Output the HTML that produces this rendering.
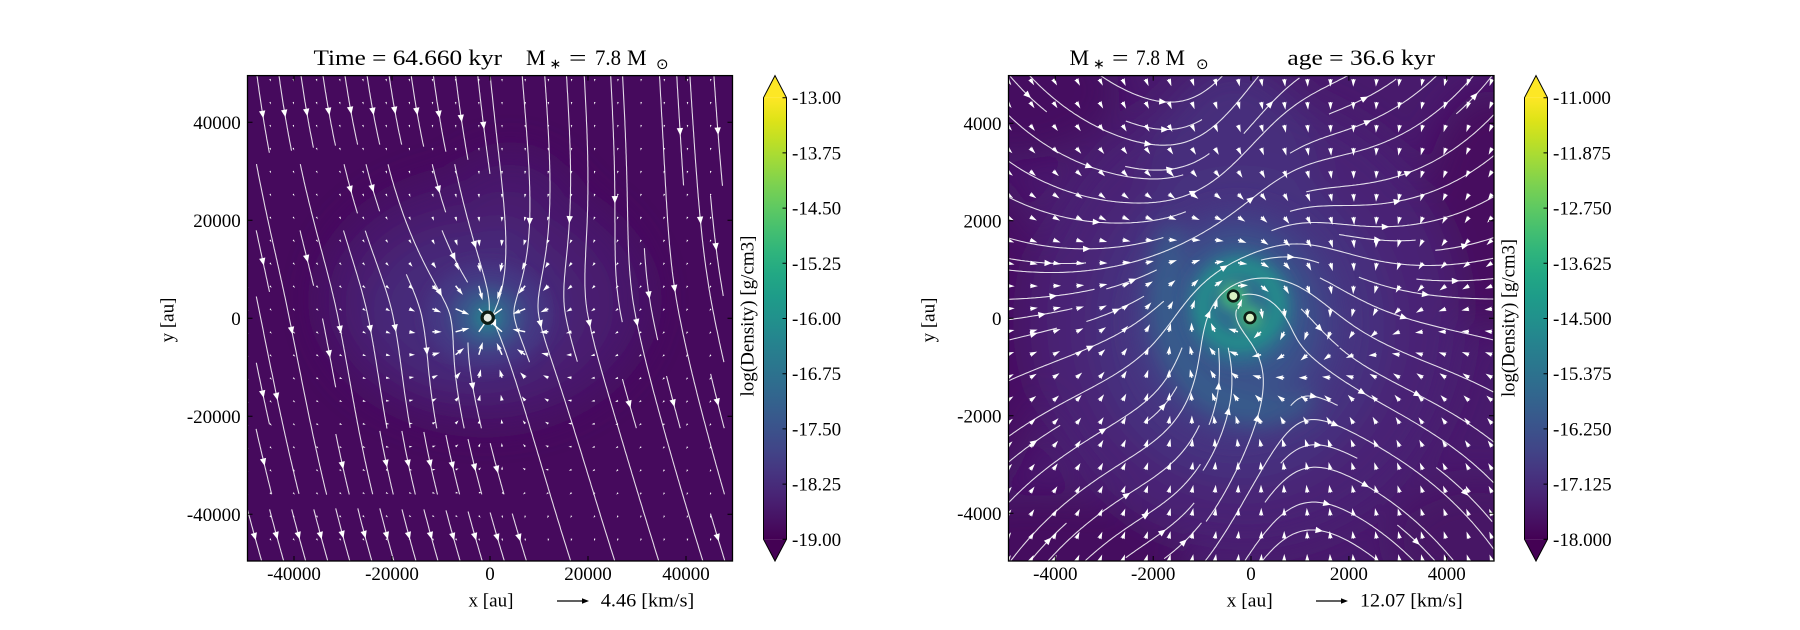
<!DOCTYPE html>
<html><head><meta charset="utf-8">
<style>
html,body{margin:0;padding:0;background:#fff;}
svg{display:block;}
text{font-family:"Liberation Serif","DejaVu Serif",serif;fill:#000;}
</style></head>
<body>
<svg id="s" width="1800" height="630" viewBox="0 0 1800 630" xmlns="http://www.w3.org/2000/svg">
<defs>
 <clipPath id="cL"><rect x="247.5" y="75.6" width="485" height="485.4"/></clipPath>
 <clipPath id="cR"><rect x="1008.5" y="75.6" width="485.5" height="485.4"/></clipPath>
 <filter id="b18" x="-50%" y="-50%" width="200%" height="200%"><feGaussianBlur stdDeviation="18"/></filter>
 <filter id="b12" x="-50%" y="-50%" width="200%" height="200%"><feGaussianBlur stdDeviation="12"/></filter>
 <filter id="b7" x="-50%" y="-50%" width="200%" height="200%"><feGaussianBlur stdDeviation="7"/></filter>
 <filter id="b4" x="-50%" y="-50%" width="200%" height="200%"><feGaussianBlur stdDeviation="4"/></filter>
 <linearGradient id="vir" gradientUnits="userSpaceOnUse" x1="0" y1="539.3" x2="0" y2="97.7">
  <stop offset="0" stop-color="#440154"/><stop offset="0.05" stop-color="#471365"/>
  <stop offset="0.1" stop-color="#482475"/><stop offset="0.15" stop-color="#463480"/>
  <stop offset="0.2" stop-color="#414487"/><stop offset="0.25" stop-color="#3b528b"/>
  <stop offset="0.3" stop-color="#355f8d"/><stop offset="0.35" stop-color="#2f6c8e"/>
  <stop offset="0.4" stop-color="#2a788e"/><stop offset="0.45" stop-color="#25848e"/>
  <stop offset="0.5" stop-color="#21918c"/><stop offset="0.55" stop-color="#1e9c89"/>
  <stop offset="0.6" stop-color="#22a884"/><stop offset="0.65" stop-color="#2fb47c"/>
  <stop offset="0.7" stop-color="#44bf70"/><stop offset="0.75" stop-color="#5ec962"/>
  <stop offset="0.8" stop-color="#7ad151"/><stop offset="0.85" stop-color="#9bd93c"/>
  <stop offset="0.9" stop-color="#bddf26"/><stop offset="0.95" stop-color="#dfe318"/>
  <stop offset="1" stop-color="#fde725"/>
 </linearGradient>
</defs>

<!-- LEFT PANEL -->
<g clip-path="url(#cL)">
 <rect x="247.5" y="75.6" width="485" height="485.4" fill="#460a5d"/>
 <g filter="url(#b18)">
  <ellipse cx="485" cy="300" rx="165" ry="125" fill="#47136a"/>
  <ellipse cx="510" cy="215" rx="70" ry="62" fill="#47136a"/>
  <ellipse cx="480" cy="305" rx="135" ry="100" fill="#481d6f"/>
  <ellipse cx="505" cy="245" rx="50" ry="55" fill="#481d6f"/>
  <ellipse cx="472" cy="310" rx="100" ry="75" fill="#472a7a"/>
  <ellipse cx="500" cy="272" rx="40" ry="45" fill="#472a7a"/>
 </g>
 <g filter="url(#b7)">
  <ellipse cx="487" cy="316" rx="62" ry="52" fill="#443983"/>
  <ellipse cx="487" cy="317" rx="36" ry="32" fill="#3b528b"/>
  <circle cx="487.7" cy="317.7" r="18" fill="#2f6c8e"/>
  <circle cx="487.7" cy="317.7" r="9" fill="#25848e"/>
 </g>
 <g id="qL" fill="#fff"></g>
 <g id="sL" fill="none" stroke="#fff" stroke-width="1.1" stroke-opacity="0.85"></g>
 <g id="hL" fill="#fff"></g>
 <circle cx="487.7" cy="317.7" r="7.2" fill="#0e1d14"/>
 <circle cx="487.7" cy="317.7" r="4" fill="#e4ebe4"/>
</g>
<rect x="247.5" y="75.6" width="485" height="485.4" fill="none" stroke="#000" stroke-width="1.3"/>
<g stroke="#000" stroke-width="1">
 <path d="M294 561v-5M392 561v-5M490 561v-5M588 561v-5M686 561v-5M294 75.6v5M392 75.6v5M490 75.6v5M588 75.6v5M686 75.6v5"/>
 <path d="M247.5 122.3h5M247.5 220.3h5M247.5 318.3h5M247.5 416.3h5M247.5 514.3h5M732.5 122.3h-5M732.5 220.3h-5M732.5 318.3h-5M732.5 416.3h-5M732.5 514.3h-5"/>
</g>
<g font-size="19">
 <text x="240.7" y="128.8" text-anchor="end">40000</text>
 <text x="240.7" y="226.8" text-anchor="end">20000</text>
 <text x="240.7" y="324.8" text-anchor="end">0</text>
 <text x="240.7" y="422.8" text-anchor="end">-20000</text>
 <text x="240.7" y="520.8" text-anchor="end">-40000</text>
 <text x="294" y="580" text-anchor="middle">-40000</text>
 <text x="392" y="580" text-anchor="middle">-20000</text>
 <text x="490" y="580" text-anchor="middle">0</text>
 <text x="588" y="580" text-anchor="middle">20000</text>
 <text x="686" y="580" text-anchor="middle">40000</text>
 <text x="468.5" y="606.7" textLength="45" lengthAdjust="spacingAndGlyphs">x [au]</text>
 <text x="600.8" y="606.7" textLength="93.4" lengthAdjust="spacingAndGlyphs">4.46 [km/s]</text>
 <text transform="translate(173.5,320) rotate(-90)" text-anchor="middle">y [au]</text>
 <text transform="translate(753.3,316) rotate(-90)" text-anchor="middle" textLength="161" lengthAdjust="spacingAndGlyphs">log(Density) [g/cm3]</text>
</g>
<path d="M557 601H584" stroke="#000" stroke-width="1.3"/>
<polygon points="589,601 582,598.3 582,603.7" fill="#000"/>
<g font-size="22">
 <text x="313.5" y="65" textLength="188.5" lengthAdjust="spacingAndGlyphs">Time = 64.660 kyr</text>
 <text x="526" y="65">M</text>
 <text x="549.5" y="68.5" font-size="14" style="font-family:'DejaVu Sans',sans-serif">∗</text>
 <text x="569" y="65" textLength="17.5" lengthAdjust="spacingAndGlyphs">=</text>
 <text x="595" y="65" textLength="26" lengthAdjust="spacingAndGlyphs">7.8</text>
 <text x="627" y="65">M</text>
 <text x="656" y="69" font-size="15" style="font-family:'DejaVu Sans',sans-serif">⊙</text>
</g>
<!-- left colorbar -->
<rect x="763.5" y="97.7" width="23" height="441.6" fill="url(#vir)"/>
<polygon points="763.5,97.7 775,75.6 786.5,97.7" fill="#fde725"/>
<polygon points="763.5,539.3 775,561 786.5,539.3" fill="#440154"/>
<path d="M763.5 97.7L775 75.6L786.5 97.7V539.3L775 561L763.5 539.3Z" fill="none" stroke="#000" stroke-width="1"/>
<path d="M786.5 97.7h-4M786.5 152.9h-4M786.5 208.1h-4M786.5 263.3h-4M786.5 318.5h-4M786.5 373.7h-4M786.5 428.9h-4M786.5 484.1h-4M786.5 539.3h-4" stroke="#000" stroke-width="1"/>
<g font-size="19">
 <text x="792" y="104.2">-13.00</text>
 <text x="792" y="159.4">-13.75</text>
 <text x="792" y="214.6">-14.50</text>
 <text x="792" y="269.8">-15.25</text>
 <text x="792" y="325">-16.00</text>
 <text x="792" y="380.2">-16.75</text>
 <text x="792" y="435.4">-17.50</text>
 <text x="792" y="490.6">-18.25</text>
 <text x="792" y="545.8">-19.00</text>
</g>

<!-- RIGHT PANEL -->
<g clip-path="url(#cR)">
 <rect x="1008.5" y="75.6" width="485.5" height="485.4" fill="#481a6c"/>
 <g filter="url(#b18)">
  <ellipse cx="1010" cy="90" rx="110" ry="70" fill="#450d60"/>
  <ellipse cx="1000" cy="330" rx="45" ry="150" fill="#460f62"/>
  <ellipse cx="1040" cy="565" rx="150" ry="70" fill="#450b5f"/>
  <ellipse cx="1494" cy="210" rx="70" ry="120" fill="#46105f"/>
  <ellipse cx="1480" cy="540" rx="90" ry="60" fill="#471365"/>
  <ellipse cx="1245" cy="320" rx="215" ry="225" fill="#482475"/>
  <ellipse cx="1235" cy="190" rx="85" ry="125" fill="#472d7b"/>
  <ellipse cx="1240" cy="325" rx="150" ry="160" fill="#46327f"/>
 </g>
 <g filter="url(#b12)">
  <ellipse cx="1238" cy="322" rx="105" ry="115" fill="#433e85"/>
  <ellipse cx="1238" cy="318" rx="78" ry="88" fill="#3b528b"/>
  <path d="M1172 228 C1150 290 1160 360 1205 395 C1235 415 1280 420 1310 400" fill="none" stroke="#33638d" stroke-width="18"/>
 </g>
 <g filter="url(#b7)">
  <ellipse cx="1240" cy="308" rx="55" ry="58" fill="#2f6c8e"/>
  <circle cx="1240" cy="305" r="38" fill="none" stroke="#1f9a8a" stroke-width="10"/>
  <circle cx="1233.3" cy="296" r="11" fill="#4ac16d"/>
  <circle cx="1250" cy="317.7" r="10" fill="#4ac16d"/>
 </g>
 <g id="qR" fill="#fff"></g>
 <g id="sR" fill="none" stroke="#fff" stroke-width="1.1" stroke-opacity="0.85"></g>
 <g id="hR" fill="#fff"></g>
 <circle cx="1233.3" cy="296" r="6.6" fill="#0e1d14"/>
 <circle cx="1233.3" cy="296" r="4" fill="#d9f3c4"/>
 <circle cx="1250" cy="317.7" r="6.6" fill="#0e1d14"/>
 <circle cx="1250" cy="317.7" r="4" fill="#d9f3c4"/>
</g>
<rect x="1008.5" y="75.6" width="485.5" height="485.4" fill="none" stroke="#000" stroke-width="1.3"/>
<g stroke="#000" stroke-width="1">
 <path d="M1055.3 561v-5M1153.2 561v-5M1251 561v-5M1348.9 561v-5M1446.7 561v-5M1055.3 75.6v5M1153.2 75.6v5M1251 75.6v5M1348.9 75.6v5M1446.7 75.6v5"/>
 <path d="M1008.5 123.3h5M1008.5 220.8h5M1008.5 318.3h5M1008.5 415.8h5M1008.5 513.3h5M1494 123.3h-5M1494 220.8h-5M1494 318.3h-5M1494 415.8h-5M1494 513.3h-5"/>
</g>
<g font-size="19">
 <text x="1001.5" y="129.8" text-anchor="end">4000</text>
 <text x="1001.5" y="227.3" text-anchor="end">2000</text>
 <text x="1001.5" y="324.8" text-anchor="end">0</text>
 <text x="1001.5" y="422.3" text-anchor="end">-2000</text>
 <text x="1001.5" y="519.8" text-anchor="end">-4000</text>
 <text x="1055.3" y="580" text-anchor="middle">-4000</text>
 <text x="1153.2" y="580" text-anchor="middle">-2000</text>
 <text x="1251" y="580" text-anchor="middle">0</text>
 <text x="1348.9" y="580" text-anchor="middle">2000</text>
 <text x="1446.7" y="580" text-anchor="middle">4000</text>
 <text x="1226.7" y="606.7" textLength="46" lengthAdjust="spacingAndGlyphs">x [au]</text>
 <text x="1360" y="606.7" textLength="102.7" lengthAdjust="spacingAndGlyphs">12.07 [km/s]</text>
 <text transform="translate(934.5,320) rotate(-90)" text-anchor="middle">y [au]</text>
 <text transform="translate(1514.3,318) rotate(-90)" text-anchor="middle" textLength="158" lengthAdjust="spacingAndGlyphs">log(Density) [g/cm3]</text>
</g>
<path d="M1316 601H1343" stroke="#000" stroke-width="1.3"/>
<polygon points="1348,601 1341,598.3 1341,603.7" fill="#000"/>
<g font-size="22">
 <text x="1069.5" y="65">M</text>
 <text x="1093" y="68.5" font-size="14" style="font-family:'DejaVu Sans',sans-serif">∗</text>
 <text x="1112" y="65" textLength="16.5" lengthAdjust="spacingAndGlyphs">=</text>
 <text x="1136" y="65" textLength="24" lengthAdjust="spacingAndGlyphs">7.8</text>
 <text x="1165.4" y="65">M</text>
 <text x="1196" y="69" font-size="15" style="font-family:'DejaVu Sans',sans-serif">⊙</text>
 <text x="1287.4" y="65" textLength="147.6" lengthAdjust="spacingAndGlyphs">age = 36.6 kyr</text>
</g>
<!-- right colorbar -->
<rect x="1524.5" y="97.7" width="23" height="441.6" fill="url(#vir)"/>
<polygon points="1524.5,97.7 1536,75.6 1547.5,97.7" fill="#fde725"/>
<polygon points="1524.5,539.3 1536,561 1547.5,539.3" fill="#440154"/>
<path d="M1524.5 97.7L1536 75.6L1547.5 97.7V539.3L1536 561L1524.5 539.3Z" fill="none" stroke="#000" stroke-width="1"/>
<path d="M1547.5 97.7h-4M1547.5 152.9h-4M1547.5 208.1h-4M1547.5 263.3h-4M1547.5 318.5h-4M1547.5 373.7h-4M1547.5 428.9h-4M1547.5 484.1h-4M1547.5 539.3h-4" stroke="#000" stroke-width="1"/>
<g font-size="19">
 <text x="1553" y="104.2">-11.000</text>
 <text x="1553" y="159.4">-11.875</text>
 <text x="1553" y="214.6">-12.750</text>
 <text x="1553" y="269.8">-13.625</text>
 <text x="1553" y="325">-14.500</text>
 <text x="1553" y="380.2">-15.375</text>
 <text x="1553" y="435.4">-16.250</text>
 <text x="1553" y="490.6">-17.125</text>
 <text x="1553" y="545.8">-18.000</text>
</g>
</svg>
<script>
(function(){
function spiral(nx,ny){
  var xf=0,yf=1,xl=nx-1,yl=ny-1,x=0,y=0,d=0,out=[];
  for(var k=0;k<nx*ny;k++){
    out.push([x,y]);
    if(d===0){x++;if(x>=xl){xl--;d=1;}}
    else if(d===1){y++;if(y>=yl){yl--;d=2;}}
    else if(d===2){x--;if(x<=xf){xf++;d=3;}}
    else {y--;if(y<=yf){yf++;d=0;}}
  }
  return out;
}
function stream(F,X0,Y0,W,H,N){
  var cw=W/N,ch=H/N,mask=new Int32Array(N*N),tid=0,out=[],minLen=0.1*W;
  function cell(x,y){var i=Math.floor((x-X0)/cw),j=Math.floor((Y0+H-y)/ch);if(i<0||j<0||i>=N||j>=N)return -1;return j*N+i;}
  function integ(x,y,dir,id,cur){
    var pts=[[x,y]],h=1.0;
    for(var k=0;k<2500;k++){
      var v=F(x,y),s=Math.hypot(v[0],v[1]);if(s<1e-9)break;
      var mx=x+dir*v[0]/s*h*0.5,my=y+dir*v[1]/s*h*0.5;
      if(mx<X0||mx>X0+W||my<Y0||my>Y0+H)break;
      v=F(mx,my);s=Math.hypot(v[0],v[1]);if(s<1e-9)break;
      var nx=x+dir*v[0]/s*h,ny=y+dir*v[1]/s*h;
      var c=cell(nx,ny);if(c<0)break;
      if(c!==cur){if(mask[c]!==0)break;mask[c]=id;cur=c;}
      x=nx;y=ny;pts.push([x,y]);
    }
    return pts;
  }
  var seeds=spiral(N,N);
  for(var q=0;q<seeds.length;q++){
    var i=seeds[q][0],j=seeds[q][1],c=j*N+i;
    if(mask[c])continue;
    tid++;mask[c]=tid;
    var sx=X0+(i+0.5)*cw,sy=Y0+H-(j+0.5)*ch;
    var b=integ(sx,sy,-1,tid,c),f=integ(sx,sy,1,tid,c);
    var pts=b.reverse().concat(f.slice(1));
    var L=0,cum=[0];
    for(var k=1;k<pts.length;k++){L+=Math.hypot(pts[k][0]-pts[k-1][0],pts[k][1]-pts[k-1][1]);cum.push(L);}
    if(L<minLen){for(var m=0;m<N*N;m++)if(mask[m]===tid)mask[m]=0;continue;}
    out.push({pts:pts,cum:cum,L:L});
  }
  return out;
}
function drawLines(lines){
  var s='';
  lines.forEach(function(ln){
    var p=ln.pts,d='M'+p[0][0].toFixed(1)+' '+p[0][1].toFixed(1);
    for(var k=2;k<p.length;k+=2)d+='L'+p[k][0].toFixed(1)+' '+p[k][1].toFixed(1);
    d+='L'+p[p.length-1][0].toFixed(1)+' '+p[p.length-1][1].toFixed(1);
    s+='<path d="'+d+'"/>';
  });
  return s;
}
function drawHeads(lines){
  var s='';
  lines.forEach(function(ln){
    var p=ln.pts,c=ln.cum,n=0;
    while(n<c.length-3&&c[n]<ln.L/2)n++;
    var a=p[n],b=p[Math.min(n+2,p.length-1)];
    var dx=b[0]-a[0],dy=b[1]-a[1],m=Math.hypot(dx,dy)||1;dx/=m;dy/=m;
    var tx=a[0]+dx*4,ty=a[1]+dy*4,bx=a[0]-dx*3.5,by=a[1]-dy*3.5;
    s+='<polygon points="'+tx.toFixed(1)+','+ty.toFixed(1)+' '+(bx-dy*3.2).toFixed(1)+','+(by+dx*3.2).toFixed(1)+' '+(bx+dy*3.2).toFixed(1)+','+(by-dx*3.2).toFixed(1)+'"/>';
  });
  return s;
}
function quiv(Q,xs,ys,w){
  var s='';
  ys.forEach(function(y){xs.forEach(function(x){
    var q=Q(x,y),L=Math.hypot(q[0],q[1]);if(L<0.3)return;
    var c=q[0]/L,sn=q[1]/L,hl=5*w,ha=4.5*w,hw=1.5*w;
    var LL=Math.max(L,hl),sc=L<hl?L/hl:1;
    var loc=[[0,-w/2],[LL-ha,-w/2],[LL-hl,-hw],[LL,0],[LL-hl,hw],[LL-ha,w/2],[0,w/2]];
    s+='<polygon points="'+loc.map(function(t){var u=t[0]*sc,v=t[1]*sc;return (x+u*c-v*sn).toFixed(1)+','+(y+u*sn+v*c).toFixed(1);}).join(' ')+'"/>';
  });});
  return s;
}
function FL(x,y){
  var dx=x-487.7,dy=y-317.7,r=Math.hypot(dx,dy)+1e-3;
  var vx=0.2+0.1*(y-318)/242,vy=1;
  var k=(dy<0?1.4:0.5)*Math.exp(-r/110);
  vx+=dx*dy/(r*r)*k;
  return [vx,vy];
}
function QL(x,y){
  var dx=x-487.7,dy=y-317.7,r=Math.hypot(dx,dy)+1e-3;
  var L=2.6+28*Math.exp(-r/40);
  var w=Math.exp(-r/250);
  var ux=(1-w)*0.12+w*(-dx/r),uy=(1-w)*1+w*(-dy/r);
  var n=Math.hypot(ux,uy)||1;
  return [ux/n*L,uy/n*L];
}
function FR(x,y){
  var X=(x-1242)/242,Y=(y-310)/242,r=Math.hypot(X,Y)+1e-3;
  var vx=1.0,vy=1.3*X*Y-1.4*Math.exp(-X*X/0.06);
  var g=3.0*Math.exp(-r/0.28),e=0.6*Math.exp(-r/0.3);
  vx+=-Y/r*g-X/r*e;
  vy+=X/r*g-Y/r*e;
  return [vx,vy];
}
function QR(x,y){
  var X=(x-1242)/242,Y=(y-310)/242,r=Math.hypot(X,Y)+1e-3;
  var ux=-0.5*X+0.15,uy=-Y;
  var g=1.5*Math.exp(-r/0.3);
  ux+=-Y/r*g;uy+=X/r*g;
  var n=Math.hypot(ux,uy)||1;
  var L=7.5+3.5*Math.exp(-r/0.35);
  return [ux/n*L,uy/n*L];
}
var ys=[];for(var j=0;j<22;j++)ys.push(79+j*22.98);
var xl=[];for(var i=0;i<22;i++)xl.push(246.8+i*23.2);
var xr=[];for(var i2=0;i2<22;i2++)xr.push(1007+i2*23.1);
try{
  document.getElementById('qL').innerHTML=quiv(QL,xl,ys,1.5);
  document.getElementById('qR').innerHTML=quiv(QR,xr,ys,1.6);
  var lL=stream(FL,247.5,75.6,485,485.4,22);
  document.getElementById('sL').innerHTML=drawLines(lL);
  document.getElementById('hL').innerHTML=drawHeads(lL);
  var lR=stream(FR,1008.5,75.6,485.5,485.4,25);
  document.getElementById('sR').innerHTML=drawLines(lR);
  document.getElementById('hR').innerHTML=drawHeads(lR);
}catch(e){}
})();
</script>
</body></html>
